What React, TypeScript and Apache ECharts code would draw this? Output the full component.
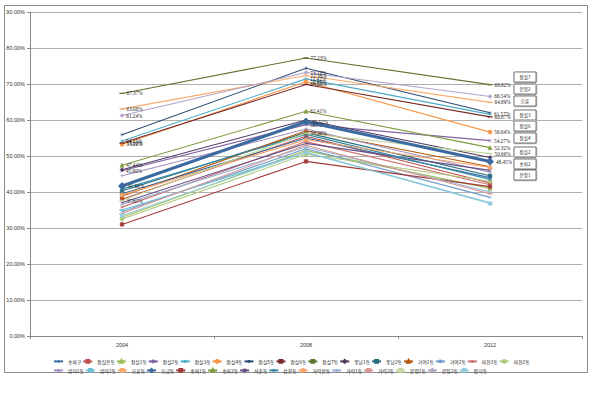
import React, { useEffect, useRef } from "react";
import * as echarts from "echarts";

const categories = ["2004", "2008", "2012"];

const seriesNames = [
  "송파구", "잠실본동", "잠실1동", "잠실2동", "잠실3동", "잠실4동", "잠실5동", "잠실6동", "잠실7동",
  "풍납1동", "풍납2동", "거여1동", "거여2동", "마천1동", "마천2동",
  "방이1동", "방이2동", "오륜동", "오금동", "송파1동", "송파2동", "석촌동", "삼전동",
  "가락본동", "가락1동", "가락2동", "문정1동", "문정2동", "장지동",
];

const values2004 = [
  41.66, 38.0, 33.0, 45.9, 54.15, 53.22, 55.9, 53.6, 67.37,
  46.2, 40.3, 38.8, 34.5, 35.8, 32.5,
  44.5, 35.0, 63.08, 39.5, 31.0, 47.44, 37.0, 40.8,
  39.2, 36.5, 34.0, 37.61, 61.24, 33.5,
];
const values2008 = [
  59.52, 55.5, 51.5, 58.71, 71.42, 70.65, 74.4, 69.88, 77.23,
  60.0, 56.5, 57.0, 52.0, 54.0, 50.5,
  57.5, 51.0, 72.36, 55.0, 48.5, 62.41, 53.5, 56.0,
  54.5, 52.5, 53.0, 56.3, 73.18, 51.0,
];
const values2012 = [
  48.45, 42.5, 41.0, 54.27, 61.57, 56.64, 62.0, 60.87, 69.82,
  49.6, 44.5, 47.0, 38.5, 42.0, 43.0,
  45.5, 37.0, 64.89, 44.0, 41.5, 52.32, 46.0, 43.5,
  46.8, 40.0, 39.5, 50.66, 66.54, 36.8,
];

const labelledSeries = ["송파구", "잠실2동", "잠실3동", "잠실4동", "잠실6동", "잠실7동", "오륜동", "송파2동", "문정1동", "문정2동"];

const boxLabels = ["잠실7", "문정2", "오륜", "잠실3", "잠실6", "잠실4", "잠실2", "송파2", "문정1"];

const yTicks = [0, 10, 20, 30, 40, 50, 60, 70, 80, 90];

const colors = [
  "#3B6AA0", "#C0504D", "#9BBB59", "#8064A2", "#4BACC6", "#F79646", "#2C4D75", "#772C2A", "#5F7530",
  "#4D3B62", "#276A7C", "#B65708", "#729ACA", "#CD7371", "#AFC97A",
  "#A18FBF", "#6FBDD1", "#F9AB6B", "#3A679C", "#9F3B38", "#7E9D40", "#664F86", "#358EA6",
  "#F4A46A", "#95B3D7", "#D99694", "#C3D69B", "#B3A2C7", "#93CDDD",
];

const xPath = "path://M0,0L10,10M10,0L0,10";
const plusPath = "path://M5,0L5,10M0,5L10,5";
const starPath = "path://M5,0L5,10M0,5L10,5M1.5,1.5L8.5,8.5M8.5,1.5L1.5,8.5";

function markerFor(i: number): { symbol: string; size: any } {
  if (i === 0) return { symbol: "diamond", size: 8 };
  const k = i % 9;
  switch (k) {
    case 0: return { symbol: "diamond", size: 4 };
    case 1: return { symbol: "rect", size: 3.5 };
    case 2: return { symbol: "triangle", size: 4 };
    case 3: return { symbol: xPath, size: 3.5 };
    case 4: return { symbol: starPath, size: 3.5 };
    case 5: return { symbol: "circle", size: 4 };
    case 6: return { symbol: plusPath, size: 3.5 };
    default: return { symbol: "rect", size: [4, 1] };
  }
}

export default function App() {
  const ref = useRef<HTMLDivElement>(null);
  useEffect(() => {
    if (!ref.current) return;
    const chart = echarts.init(ref.current, undefined, { renderer: "svg" });
    const series = seriesNames.map((name, i) => {
      const m = markerFor(i);
      const labelled = labelledSeries.includes(name);
      return {
        name,
        type: "line",
        data: [values2004[i], values2008[i], values2012[i]],
        symbol: m.symbol,
        symbolSize: m.size,
        showSymbol: true,
        z: i === 0 ? 5 : 2,
        lineStyle: { color: colors[i], width: i === 0 ? 3 : 1.1 },
        itemStyle: { color: colors[i], borderColor: colors[i], borderWidth: i === 0 ? 0 : 0.6 },
        emphasis: { disabled: true },
        label: labelled
          ? {
              show: true,
              position: "right",
              distance: 2,
              formatter: (p: any) => Number(p.value).toFixed(2) + "%",
              fontSize: 5.2,
              color: "#222",
              fontFamily: "Liberation Serif",
            }
          : { show: false },
      };
    });

    const boxCenters = [77, 89, 101, 115, 126, 138, 152, 164, 175];
    const boxes = boxLabels.map((t, i) => ({
      type: "group",
      x: 514,
      y: boxCenters[i] - 5,
      z: 10,
      children: [
        {
          type: "rect",
          shape: { x: 0, y: 0, width: 22, height: 10 },
          style: { fill: "#fff", stroke: "#555", lineWidth: 0.8, shadowBlur: 1, shadowColor: "rgba(0,0,0,0.4)", shadowOffsetX: 0.5, shadowOffsetY: 0.5 },
        },
        {
          type: "text",
          x: 11,
          y: 5,
          style: { text: t, fontSize: 4.5, fill: "#222", align: "center", verticalAlign: "middle", fontFamily: "Noto Sans CJK KR" },
        },
      ],
    }));

    const legendCommon = {
      left: 48,
      orient: "horizontal",
      itemWidth: 9,
      itemHeight: 3.5,
      itemGap: 1,
      textStyle: { fontSize: 4.8, color: "#222", width: 18, fontFamily: "Noto Sans CJK KR" },
      selectedMode: false,
    };

    chart.setOption({
      animation: false,
      grid: { left: 30, right: 18, top: 12, bottom: 66, containLabel: false },
      xAxis: {
        type: "category",
        data: categories,
        boundaryGap: true,
        axisLine: { lineStyle: { color: "#888" } },
        axisTick: { show: true, length: 3, lineStyle: { color: "#888" } },
        axisLabel: { fontSize: 5.5, color: "#333", margin: 6, fontFamily: "Liberation Sans" },
      },
      yAxis: {
        type: "value",
        min: yTicks[0],
        max: yTicks[yTicks.length - 1],
        interval: 10,
        axisLine: { show: true, lineStyle: { color: "#888" } },
        axisTick: { show: true, length: 3, lineStyle: { color: "#888" } },
        splitLine: { lineStyle: { color: "#b0b0b0", width: 1 } },
        axisLabel: {
          fontSize: 5.5,
          color: "#333",
          margin: 5,
          fontFamily: "Liberation Sans",
          formatter: (v: number) => v.toFixed(2) + "%",
        },
      },
      legend: [
        { ...legendCommon, top: 354, data: seriesNames.slice(0, 15) },
        { ...legendCommon, top: 363, data: seriesNames.slice(15) },
      ],
      series,
      graphic: [
        {
          type: "rect",
          z: -1,
          shape: { x: 4.5, y: 5.5, width: 583, height: 367 },
          style: { fill: "none", stroke: "#8c8c8c", lineWidth: 1 },
        },
        ...boxes,
      ],
    });
    return () => chart.dispose();
  }, []);
  return <div ref={ref} style={{ position: "absolute", left: 0, top: 0, width: 600, height: 402 }} />;
}
